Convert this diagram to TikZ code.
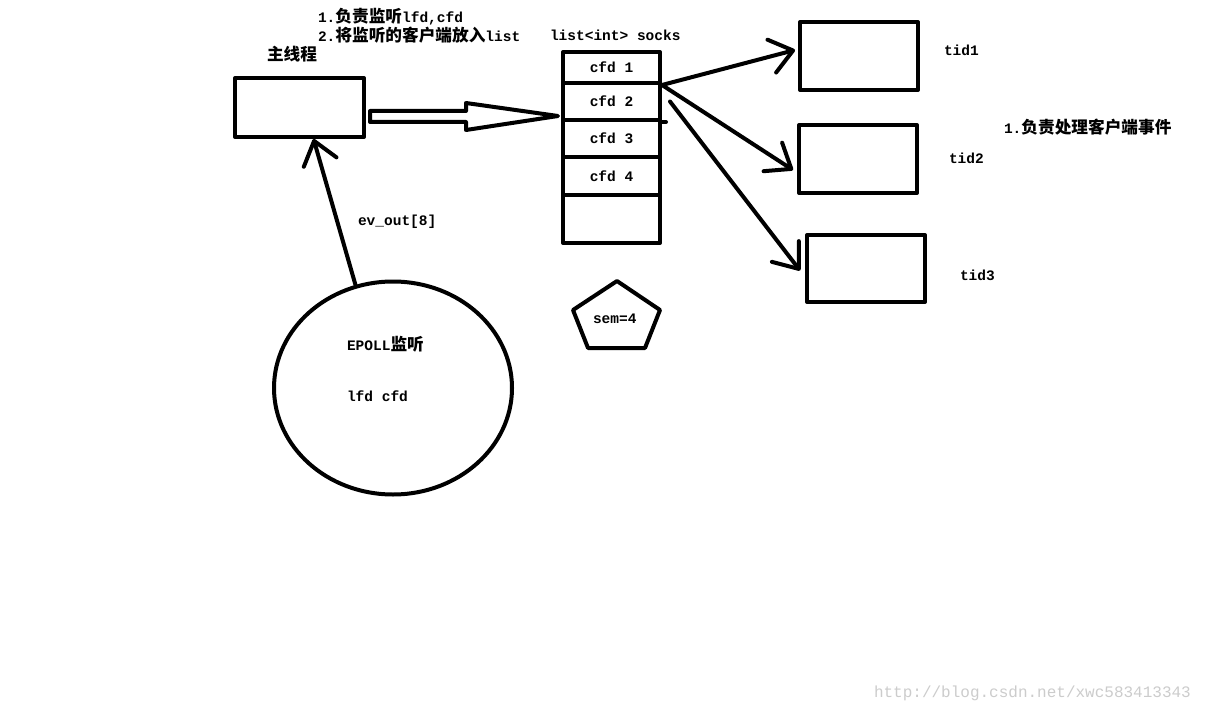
\documentclass[tikz,border=0pt]{standalone}
\usepackage{fontspec}
\setmainfont{Liberation Mono}
\newfontfamily\cjk{Noto Sans CJK SC}[Scale=1.15]
\usetikzlibrary{arrows.meta,shapes.geometric,calc}

\begin{document}
\begin{tikzpicture}[x=1pt,y=-1pt,line width=4pt,line cap=round,line join=round,
  >={Straight Barb[length=22pt,width=34pt,round]},
  font=\fontsize{14.5}{17}\selectfont\bfseries,
  box/.style={draw,rectangle,inner sep=0pt},
  cell/.style={box,minimum width=97pt},
  lbl/.style={anchor=west,inner sep=0pt}]
\useasboundingbox[fill=white] (0,0) rectangle (1212,714);
% main thread
\node[box,minimum width=129pt,minimum height=59pt] (main) at (299.5,107.5) {};
\node[lbl] (mainlbl) at (265,54) {\cjk 主线程};
\node[lbl] (note1) at (316,17) {1.{\cjk 负责监听}lfd,cfd};
\node[lbl] (note2) at (316,35) {2.{\cjk 将监听的客户端放入}list};
% socket list
\node[lbl] (listlbl) at (548,35) {list<int> socks};
\node[cell,minimum height=31pt] (cell1) at (611.5,67.5) {cfd 1};
\node[cell,minimum height=37pt] (cell2) at (611.5,101.5) {cfd 2};
\node[cell,minimum height=37pt] (cell3) at (611.5,138.5) {cfd 3};
\node[cell,minimum height=38pt] (cell4) at (611.5,176) {cfd 4};
\node[cell,minimum height=48pt] (cell5) at (611.5,219) {};
\draw (cell2.south east) -- ++(4,0);
% hollow arrow
\coordinate (hstart) at (370,117);
\coordinate (htip) at (558,116);
\draw (hstart) -- ++(0,-6) -- ++(96,0) -- ++(0,-8) -- (htip)
  -- ($(hstart)+(96,13)$) -- ++(0,-8) -- ++(-96,0) -- cycle;
% worker threads
\node[box,minimum width=118pt,minimum height=68pt] (tid1) at (859,56) {};
\node[box,minimum width=118pt,minimum height=68pt] (tid2) at (858,159) {};
\node[box,minimum width=118pt,minimum height=67pt] (tid3) at (866,268.5) {};
\node[lbl] (tid1lbl) at (942,50) {tid1};
\node[lbl] (tid2lbl) at (947,158) {tid2};
\node[lbl] (tid3lbl) at (958,275) {tid3};
\node[lbl] (note3) at (1002,127) {1.{\cjk 负责处理客户端事件}};
\draw[->] (cell1.south east) -- ($(tid1.west)+(-3,-6)$);
\draw[->] (cell1.south east) -- ($(tid2.west)+(-4,11)$);
\draw[->] ($(cell2.east)+(8,0)$) -- ($(tid3.west)+(-5,2)$);
% epoll
\node[draw,ellipse,inner sep=0pt,minimum width=238pt,minimum height=213pt] (epoll) at (393,388) {};
\node[lbl] (epolllbl) at (345,344) {EPOLL{\cjk 监听}};
\node[lbl] (fdlbl) at (345,396) {lfd cfd};
\draw[->] (epoll.110) -- (main.-66);
\node[lbl] (evlbl) at (356,222) {ev\_out[8]};
% semaphore
\draw (617,281) -- (660,310) -- (645,348) -- (588,348) -- (573,310) -- cycle;
\node[lbl] (sem) at (591,319) {sem=4};
% watermark
\node[lbl,text=black!20,font=\fontsize{16}{18}\selectfont] (mark) at (872,693) {http://blog.csdn.net/xwc583413343};
\end{tikzpicture}
\end{document}
